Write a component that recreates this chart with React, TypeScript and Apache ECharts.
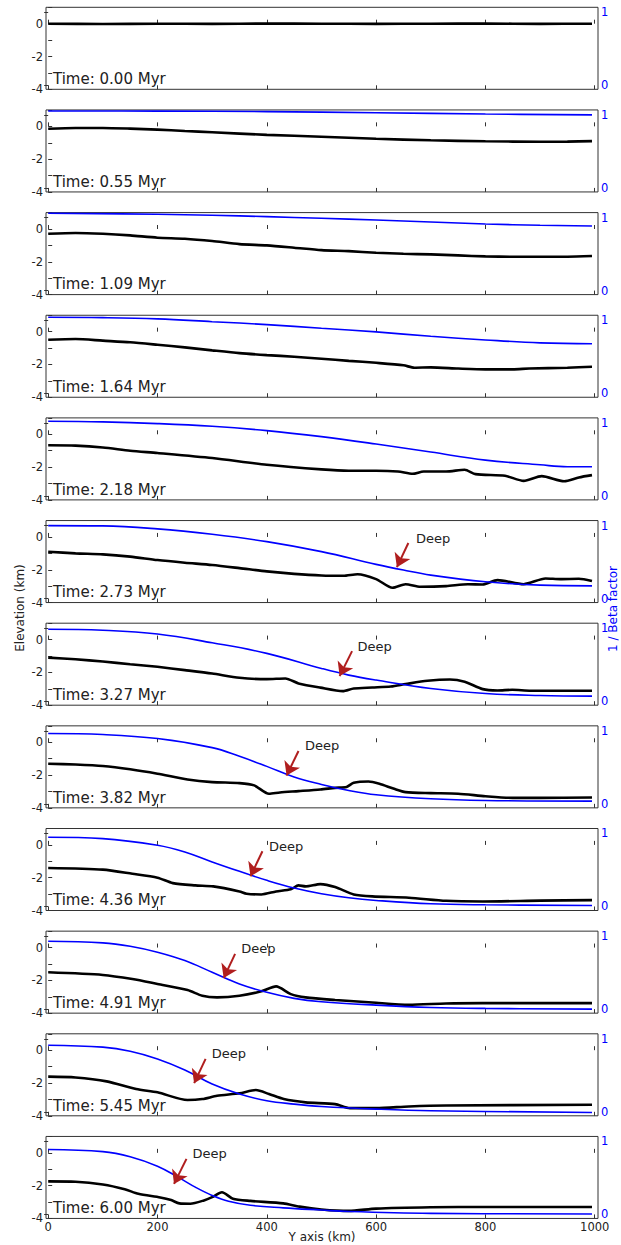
import React, { useEffect, useRef } from 'react';
import * as echarts from 'echarts';

// ---------- data ----------
const times = ['0.00', '0.55', '1.09', '1.64', '2.18', '2.73', '3.27', '3.82', '4.36', '4.91', '5.45', '6.00'];

const xTicks = [0, 200, 400, 600, 800, 1000];
const leftTickLabels = [-4, -2, 0];
const rightTicks = [0, 1];

// Elevation (km) along the Y axis (km)
const elev000 = [[0, 0], [100, -0.02], [200, 0], [300, -0.01], [400, 0.01], [500, 0], [600, -0.01], [700, 0], [800, 0.01], [900, -0.01], [995, 0]];
const elev055 = [[0, -0.15], [50, -0.1], [100, -0.1], [150, -0.14], [200, -0.2], [250, -0.28], [300, -0.36], [400, -0.52], [500, -0.63], [600, -0.76], [700, -0.85], [800, -0.91], [900, -0.94], [950, -0.93], [995, -0.9]];
const elev109 = [[0, -0.29], [50, -0.24], [100, -0.29], [150, -0.39], [200, -0.53], [250, -0.59], [300, -0.73], [350, -0.92], [400, -1.0], [450, -1.14], [500, -1.29], [550, -1.35], [600, -1.45], [650, -1.51], [700, -1.55], [750, -1.61], [800, -1.67], [850, -1.69], [900, -1.69], [950, -1.69], [995, -1.65]];
const elev164 = [[0, -0.49], [50, -0.45], [100, -0.55], [150, -0.65], [200, -0.8], [250, -0.96], [300, -1.14], [350, -1.31], [400, -1.43], [450, -1.53], [500, -1.65], [550, -1.78], [600, -1.9], [650, -2.05], [670, -2.2], [700, -2.18], [750, -2.25], [800, -2.3], [850, -2.3], [880, -2.25], [950, -2.2], [995, -2.14]];
const elev218 = [[0, -0.67], [50, -0.69], [100, -0.8], [150, -1.0], [200, -1.14], [300, -1.45], [400, -1.86], [500, -2.14], [550, -2.22], [600, -2.22], [640, -2.27], [667, -2.41], [687, -2.27], [728, -2.27], [762, -2.16], [782, -2.43], [836, -2.53], [870, -2.84], [903, -2.55], [944, -2.86], [971, -2.63], [995, -2.49]];
const elev273 = [[0, -0.9], [50, -1.0], [100, -1.06], [150, -1.2], [200, -1.41], [250, -1.57], [300, -1.71], [350, -1.9], [400, -2.1], [450, -2.25], [500, -2.35], [540, -2.37], [566, -2.27], [600, -2.57], [630, -3.1], [654, -2.88], [681, -3.04], [728, -3.0], [768, -2.88], [795, -2.9], [822, -2.63], [870, -2.88], [910, -2.53], [937, -2.57], [971, -2.55], [995, -2.69]];
const elev327 = [[0, -1.1], [50, -1.2], [100, -1.34], [150, -1.5], [200, -1.66], [250, -1.86], [300, -2.07], [350, -2.33], [400, -2.41], [434, -2.37], [458, -2.67], [498, -2.93], [539, -3.14], [559, -2.98], [593, -2.92], [627, -2.86], [654, -2.71], [694, -2.51], [735, -2.43], [762, -2.57], [795, -3.02], [822, -3.1], [849, -3.06], [883, -3.12], [930, -3.12], [995, -3.12]];
const elev382 = [[0, -1.31], [50, -1.36], [100, -1.45], [150, -1.65], [200, -1.92], [255, -2.27], [300, -2.43], [350, -2.49], [377, -2.63], [404, -3.14], [424, -3.06], [458, -2.98], [498, -2.88], [525, -2.78], [546, -2.73], [559, -2.47], [586, -2.39], [606, -2.53], [633, -2.84], [654, -3.04], [700, -3.1], [750, -3.14], [800, -3.29], [850, -3.39], [900, -3.39], [995, -3.37]];
const elev436 = [[0, -1.41], [100, -1.51], [154, -1.76], [200, -2.0], [228, -2.33], [269, -2.47], [302, -2.53], [350, -2.84], [363, -2.98], [390, -3.02], [417, -2.84], [444, -2.71], [458, -2.47], [471, -2.53], [498, -2.39], [525, -2.57], [559, -3.02], [593, -3.14], [660, -3.22], [728, -3.41], [795, -3.45], [900, -3.4], [995, -3.37]];
const elev491 = [[0, -1.51], [100, -1.67], [154, -1.92], [200, -2.22], [255, -2.59], [282, -2.94], [309, -3.04], [350, -2.94], [390, -2.67], [417, -2.37], [444, -2.84], [471, -3.04], [525, -3.2], [593, -3.35], [660, -3.49], [728, -3.41], [795, -3.39], [995, -3.39]];
const elev545 = [[0, -1.61], [50, -1.66], [107, -1.9], [161, -2.37], [200, -2.57], [255, -3.04], [282, -2.98], [309, -2.78], [350, -2.63], [380, -2.43], [404, -2.67], [431, -2.98], [471, -3.18], [525, -3.29], [552, -3.53], [600, -3.53], [660, -3.43], [728, -3.37], [995, -3.33]];
const elev600 = [[0, -1.74], [50, -1.76], [100, -1.93], [140, -2.22], [165, -2.5], [205, -2.72], [225, -2.88], [240, -3.08], [260, -3.1], [285, -2.9], [300, -2.7], [318, -2.4], [338, -2.8], [370, -2.93], [430, -3.08], [460, -3.28], [500, -3.45], [550, -3.54], [600, -3.4], [700, -3.32], [800, -3.3], [995, -3.3]];

// 1 / Beta factor along the Y axis (km)
const beta055 = [[0, 1.054], [200, 1.052], [400, 1.045], [600, 1.03], [800, 1.012], [995, 1.0]];
const beta109 = [[0, 1.059], [200, 1.045], [300, 1.031], [400, 1.013], [500, 0.99], [600, 0.967], [700, 0.94], [800, 0.912], [900, 0.894], [995, 0.885]];
const beta164 = [[0, 1.04], [100, 1.035], [200, 1.018], [300, 0.98], [400, 0.94], [500, 0.89], [600, 0.84], [700, 0.78], [800, 0.73], [900, 0.69], [995, 0.677]];
const beta218 = [[0, 1.022], [100, 1.013], [200, 0.99], [300, 0.953], [400, 0.894], [500, 0.811], [600, 0.71], [700, 0.6], [800, 0.49], [900, 0.426], [950, 0.4], [995, 0.4]];
const beta273 = [[0, 0.999], [100, 0.995], [200, 0.954], [300, 0.88], [400, 0.779], [500, 0.642], [600, 0.468], [650, 0.39], [700, 0.321], [800, 0.23], [900, 0.183], [995, 0.174]];
const beta327 = [[0, 0.985], [100, 0.972], [200, 0.921], [300, 0.8], [400, 0.655], [500, 0.449], [550, 0.357], [600, 0.289], [700, 0.174], [800, 0.105], [900, 0.078], [995, 0.069]];
const beta382 = [[0, 0.963], [100, 0.949], [200, 0.894], [300, 0.77], [350, 0.651], [400, 0.513], [450, 0.367], [500, 0.266], [550, 0.183], [600, 0.124], [700, 0.069], [800, 0.046], [995, 0.037]];
const beta436 = [[0, 0.949], [100, 0.93], [200, 0.839], [250, 0.747], [300, 0.61], [350, 0.481], [400, 0.358], [450, 0.252], [500, 0.174], [550, 0.119], [600, 0.083], [700, 0.037], [800, 0.023], [995, 0.014]];
const beta491 = [[0, 0.93], [100, 0.908], [150, 0.862], [200, 0.78], [250, 0.665], [300, 0.505], [350, 0.344], [400, 0.23], [450, 0.147], [500, 0.101], [600, 0.055], [700, 0.023], [800, 0.01], [995, 0.0]];
const beta545 = [[0, 0.912], [100, 0.885], [150, 0.83], [200, 0.724], [250, 0.573], [300, 0.38], [350, 0.243], [400, 0.151], [450, 0.105], [500, 0.073], [600, 0.037], [700, 0.014], [995, -0.009]];
const beta600 = [[0, 0.89], [100, 0.86], [150, 0.79], [200, 0.66], [240, 0.5], [270, 0.37], [300, 0.26], [330, 0.18], [370, 0.125], [430, 0.09], [500, 0.06], [550, 0.04], [700, 0.015], [995, 0.005]];

// "Deep" annotations: text anchor, arrow tail, arrow tip (km, elevation)
const deepText = [null, null, null, null, null, [673, -0.08], [566, -0.4], [470, -0.22], [404, -0.08], [353, -0.08], [299, -0.18], [264, -0.07]];
const deepTail = [null, null, null, null, null, [659, -0.37], [556, -0.7], [458, -0.53], [392, -0.39], [342, -0.39], [288, -0.53], [253, -0.37]];
const deepTip = [null, null, null, null, null, [633, -2.2], [528, -2.58], [431, -2.39], [365, -2.27], [316, -2.22], [262, -2.37], [225, -2.25]];

const elevations = [elev000, elev055, elev109, elev164, elev218, elev273, elev327, elev382, elev436, elev491, elev545, elev600];
const betas = [null, beta055, beta109, beta164, beta218, beta273, beta327, beta382, beta436, beta491, beta545, beta600];

// ---------- layout ----------
const W = 621;
const H = 1245;
const GL = 46;
const GW = 552;
const GT0 = 7.3;
const GP = 102.65;
const GH = 82;
const XMIN = -4;
const XMAX = 1006;
const YMIN = -4;
const YMAX = 1;
const RMIN = -0.055;
const RMAX = 1.068;
const FONT = '"DejaVu Sans", "Liberation Sans", sans-serif';
const ARROW = '#b01e1e';
const BLUE = '#0000ff';
const EDGE = '#333333';
const HEAD = 13;

function headCenter(tail: number[], tip: number[]) {
  const pxKm = GW / (XMAX - XMIN);
  const pxEl = GH / (YMAX - YMIN);
  const dx = (tip[0] - tail[0]) * pxKm;
  const dy = (tip[1] - tail[1]) * pxEl;
  const L = Math.hypot(dx, dy);
  const f = (HEAD / 2) / L;
  return [tip[0] - (tip[0] - tail[0]) * f, tip[1] - (tip[1] - tail[1]) * f];
}

function buildOption() {
  const grid: any[] = [];
  const xAxis: any[] = [];
  const yAxis: any[] = [];
  const series: any[] = [];
  const graphic: any[] = [];

  times.forEach((t, i) => {
    const top = GT0 + i * GP;
    grid.push({ left: GL, width: GW, top, height: GH, show: true, borderColor: EDGE, borderWidth: 1, backgroundColor: 'transparent' });
    const isLast = i === times.length - 1;
    ['bottom', 'top'].forEach((pos) => {
      xAxis.push({
        type: 'value', gridIndex: i, min: XMIN, max: XMAX, position: pos,
        axisLine: { show: false }, splitLine: { show: false },
        axisTick: { show: true, inside: true, length: 4, customValues: xTicks, lineStyle: { color: EDGE } },
        axisLabel: {
          show: pos === 'bottom' && isLast, customValues: xTicks, fontSize: 11.5, color: '#222', margin: 3, fontFamily: FONT,
          formatter: (v: number) => String(Math.round(v)),
        },
      });
    });
    yAxis.push({
      type: 'value', gridIndex: i, min: YMIN, max: YMAX, interval: 1, position: 'left',
      axisLine: { show: false }, splitLine: { show: false },
      axisTick: { show: true, inside: true, length: 4, lineStyle: { color: EDGE } },
      axisLabel: {
        show: true, showMinLabel: true, showMaxLabel: true, fontSize: 11.5, color: '#222', margin: 3, fontFamily: FONT,
        formatter: (v: number) => (leftTickLabels.includes(Math.round(v)) && Math.abs(v - Math.round(v)) < 1e-6 ? String(Math.round(v)) : ''),
      },
    });
    yAxis.push({
      type: 'value', gridIndex: i, min: RMIN, max: RMAX, position: 'right',
      axisLine: { show: false }, splitLine: { show: false },
      axisTick: { show: true, inside: true, length: 4, customValues: rightTicks, lineStyle: { color: EDGE } },
      axisLabel: { show: true, customValues: rightTicks, fontSize: 11.5, color: BLUE, margin: 3, fontFamily: FONT, formatter: (v: number) => String(Math.round(v)) },
    });

    series.push({
      type: 'line', xAxisIndex: 2 * i, yAxisIndex: 2 * i, data: elevations[i],
      showSymbol: false, smooth: 0.25, lineStyle: { color: '#000', width: 2.6 }, z: 2, silent: true,
    });
    const b = betas[i];
    if (b) {
      series.push({
        type: 'line', xAxisIndex: 2 * i, yAxisIndex: 2 * i + 1, data: b,
        showSymbol: false, smooth: 0.4, lineStyle: { color: BLUE, width: 1.6 }, z: 3, silent: true,
      });
    }
    const tail = deepTail[i];
    const tip = deepTip[i];
    const txt = deepText[i];
    if (tail && tip && txt) {
      series.push({
        type: 'line', xAxisIndex: 2 * i, yAxisIndex: 2 * i, data: [], z: 5, silent: true,
        markLine: {
          silent: true, animation: false,
          symbol: ['none', 'arrow'], symbolSize: HEAD,
          lineStyle: { color: ARROW, width: 2, type: 'solid' },
          itemStyle: { color: ARROW },
          label: { show: false },
          emphasis: { disabled: true },
          data: [[{ coord: tail }, { coord: headCenter(tail, tip) }]],
        },
        markPoint: {
          silent: true, animation: false,
          symbol: 'circle', symbolSize: 0.1, itemStyle: { color: 'rgba(0,0,0,0)' },
          label: { show: true, position: 'right', distance: 0, formatter: 'Deep', color: '#222', fontSize: 13, fontFamily: FONT },
          data: [{ coord: txt }],
        },
      });
    }

    graphic.push({
      type: 'text', x: GL + 7, y: top + GH - 10.3, silent: true,
      style: { text: 'Time: ' + t + ' Myr', font: '15px ' + FONT, fill: '#222', align: 'left', verticalAlign: 'middle' },
    });
  });

  graphic.push({
    type: 'text', x: 20, y: 608, rotation: Math.PI / 2, silent: true,
    style: { text: 'Elevation (km)', font: '12px ' + FONT, fill: '#222', align: 'center', verticalAlign: 'middle' },
  });
  graphic.push({
    type: 'text', x: 613, y: 609, rotation: Math.PI / 2, silent: true,
    style: { text: '1 / Beta factor', font: '12px ' + FONT, fill: BLUE, align: 'center', verticalAlign: 'middle' },
  });
  graphic.push({
    type: 'text', x: 322, y: 1237, silent: true,
    style: { text: 'Y axis (km)', font: '12px ' + FONT, fill: '#222', align: 'center', verticalAlign: 'middle' },
  });

  return {
    animation: false,
    backgroundColor: '#ffffff',
    textStyle: { fontFamily: FONT },
    grid, xAxis, yAxis, series, graphic,
  };
}

export default function App() {
  const ref = useRef<HTMLDivElement | null>(null);
  useEffect(() => {
    document.body.style.margin = '0';
    if (!ref.current) return;
    const chart = echarts.init(ref.current, null, { renderer: 'svg' });
    chart.setOption(buildOption() as any);
    return () => chart.dispose();
  }, []);
  return <div ref={ref} style={{ width: W, height: H }} />;
}
